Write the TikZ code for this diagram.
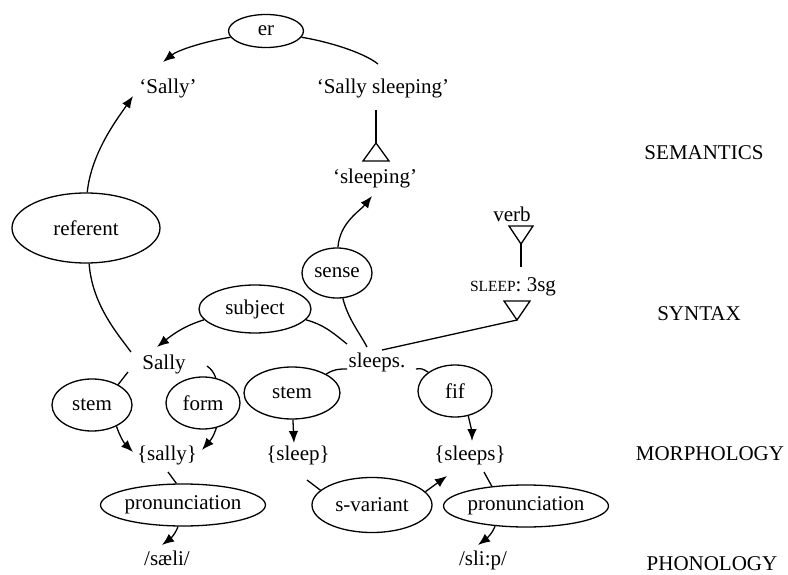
\documentclass[tikz,border=0pt]{standalone}
\usepackage{fontspec}
\setmainfont{Liberation Serif}
\usetikzlibrary{shapes.geometric,arrows.meta}

\begin{document}
\begin{tikzpicture}[x=1pt,y=-1pt,
  every node/.style={font=\fontsize{21}{25}\selectfont},
  rel/.style={draw, ellipse, inner sep=0pt, line width=1.3pt},
  word/.style={anchor=base, inner sep=0pt},
  link/.style={line width=1.3pt},
  arr/.style={link, -{Latex[length=12pt,width=9.5pt]}},
  isa/.style={line width=1.3pt, line join=miter},
]
\useasboundingbox (0,0) rectangle (788,575);

% ---- relation ellipses ----
\node[rel, minimum width=75pt,  minimum height=33pt] (er)       at (266,31)  {er};
\node[rel, minimum width=148pt, minimum height=70pt] (referent) at (86,228)  {referent};
\node[rel, minimum width=70pt,  minimum height=50pt] (sense)    at (337,273) {sense};
\node[rel, minimum width=112pt, minimum height=48pt] (subject)  at (255,309) {subject};
\node[rel, minimum width=80pt,  minimum height=52pt] (stemL)    at (92,405)  {stem};
\node[rel, minimum width=74pt,  minimum height=52pt] (form)     at (203,403) {form};
\node[rel, minimum width=96pt,  minimum height=52pt] (stemM)    at (292,393) {stem};
\node[rel, minimum width=74pt,  minimum height=52pt] (fif)      at (455,391) {fif};
\node[rel, minimum width=144pt, minimum height=42pt] (pronL)    at (183,505) {pronunciation};
\node[rel, minimum width=120pt, minimum height=55pt] (svar)     at (372,505) {s-variant};
\node[rel, minimum width=152pt, minimum height=42pt] (pronR)    at (526,506) {pronunciation};

% ---- concepts, words, forms ----
\node[word] (sallyq)  at (168,94)  {‘Sally’};
\node[word] (sallysl) at (383,94)  {‘Sally sleeping’};
\node[word] (sleepq)  at (375,184) {‘sleeping’};
\node[word] (verb)    at (512,222) {verb};
\node[word] (lex)     at (513,291) {{\fontsize{15.5}{18}\selectfont SLEEP}: 3sg};
\node[word] (sally)   at (164,369) {Sally};
\node[word] (sleeps)  at (377,367) {sleeps.};
\node[word] (msally)  at (167,460) {\{sally\}};
\node[word] (msleep)  at (298,460) {\{sleep\}};
\node[word] (msleeps) at (470,460) {\{sleeps\}};
\node[word] (psally)  at (167,565) {/sæli/};
\node[word] (psleep)  at (483,565) {/sli:p/};

% ---- level labels ----
\node[word] (lsem) at (704,160) {SEMANTICS};
\node[word] (lsyn) at (699,320) {SYNTAX};
\node[word] (lmor) at (710,460) {MORPHOLOGY};
\node[word] (lpho) at (712,570) {PHONOLOGY};

% ---- connector end points next to the texts ----
\coordinate (q1)  at (163,62);
\coordinate (q2)  at (378,64);
\coordinate (q3)  at (376,110);
\coordinate (tri1) at (376,143);
\coordinate (q4)  at (133,96);
\coordinate (q5)  at (131,352);
\coordinate (q6)  at (372,196);
\coordinate (q7)  at (367,347);
\coordinate (q8)  at (157,347);
\coordinate (q9)  at (347,344);
\coordinate (vtri) at (521,244);
\coordinate (vbot) at (521,267);
\coordinate (ltri) at (517,320);
\coordinate (q10) at (382,350);
\coordinate (q11) at (128,372);
\coordinate (q12) at (207,366);
\coordinate (q13) at (133,452);
\coordinate (q14) at (202,450);
\coordinate (q15) at (168,472);
\coordinate (q16) at (162,545);
\coordinate (q17) at (347,369);
\coordinate (q18) at (294,443);
\coordinate (q19) at (307,480);
\coordinate (q20) at (447,476);
\coordinate (q21) at (416,369);
\coordinate (q22) at (472,441);
\coordinate (q23) at (484,472);
\coordinate (q24) at (478,545);

% ---- semantics ----
\draw[arr]  (er.190) .. controls +(-25,4) and +(15,-12) .. (q1);
\draw[link] (er.350) .. controls +(25,4) and +(-15,-12) .. (q2);
\draw[link] (q3) -- (tri1);
\draw[isa]  (tri1) -- ++(-13,18) -- ++(26,0) -- cycle;
\draw[arr]  (referent.88) .. controls +(4,-40) and +(-15,22) .. (q4);
\draw[link] (referent.275) .. controls +(3,40) and +(-15,-20) .. (q5);
\draw[arr]  (sense.88) .. controls +(2,-25) and +(-12,15) .. (q6);

% ---- syntax ----
\draw[link] (sense.283) .. controls +(5,20) and +(-8,-15) .. (q7);
\draw[arr]  (subject.192) .. controls +(-20,6) and +(15,-12) .. (q8);
\draw[link] (subject.348) .. controls +(18,5) and +(-15,-12) .. (q9);
\draw[isa]  (vtri) -- ++(-12,-18) -- ++(24,0) -- cycle;
\draw[link] (vtri) -- (vbot);
\draw[isa]  (ltri) -- ++(-13,-19) -- ++(26,0) -- cycle;
\draw[link] (ltri) -- (q10);

% ---- morphology ----
\draw[link] (q11) -- (stemL.38);
\draw[link] (q12) .. controls +(4,3) and +(-2,-6) .. (form.63);
\draw[arr]  (stemL.319) .. controls +(4,12) and +(-8,-8) .. (q13);
\draw[arr]  (form.298) .. controls +(-3,10) and +(7,-8) .. (q14);
\draw[link] (q15) -- (pronL.107);
\draw[link] (stemM.29) .. controls +(8,-5) and +(-8,0) .. (q17);
\draw[arr]  (stemM.272) -- (q18);
\draw[link] (q19) -- (svar.164);
\draw[arr]  (svar.14) -- (q20);
\draw[link] (q21) .. controls +(6,-1) and +(-5,-3) .. (fif.145);
\draw[arr]  (fif.298) .. controls +(2,8) and +(0,-8) .. (q22);
\draw[link] (q23) -- (pronR.150);

% ---- phonology ----
\draw[arr]  (pronL.257) .. controls +(-3,8) and +(8,-6) .. (q16);
\draw[arr]  (pronR.213) .. controls +(-3,8) and +(8,-6) .. (q24);
\end{tikzpicture}
\end{document}
